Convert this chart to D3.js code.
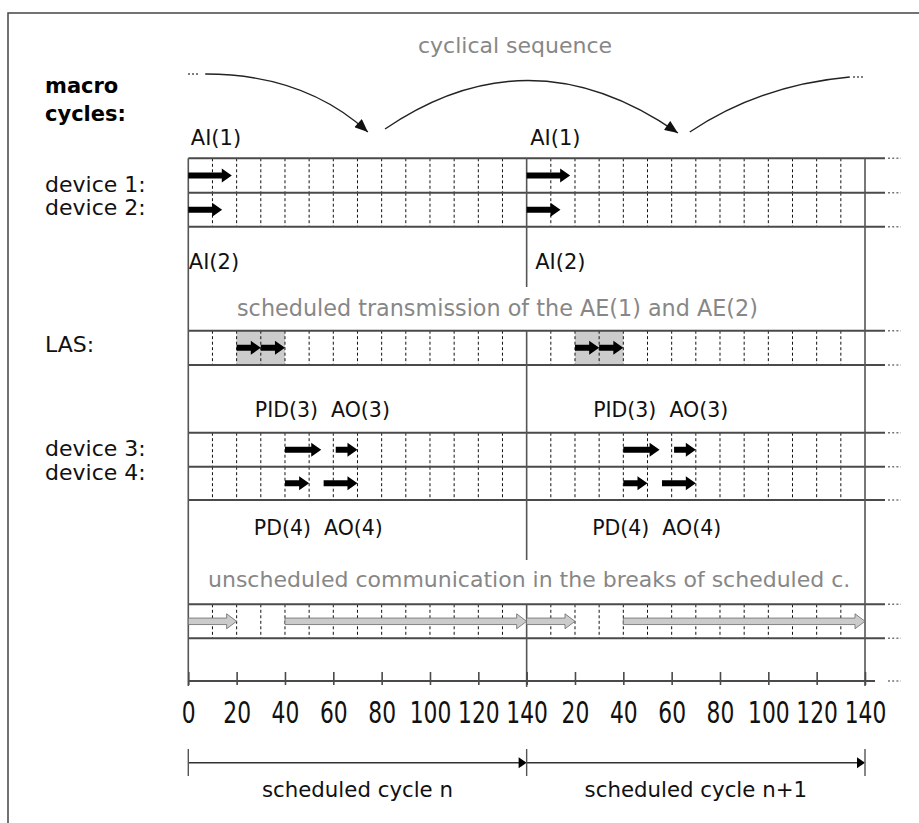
<!DOCTYPE html>
<html>
<head>
<meta charset="utf-8">
<script src="https://cdn.jsdelivr.net/npm/d3@7"></script>
<style>
  html, body { margin: 0; padding: 0; background: #fff; }
  svg text { font-family: "DejaVu Sans", "Liberation Sans", sans-serif; white-space: pre; }
</style>
</head>
<body>
<svg id="chart" width="919" height="823"></svg>
<script>
// ---------- data ----------
const cycleLength = 140;
const cycleNames = ["scheduled cycle n", "scheduled cycle n+1"];
const tickValues = [0, 20, 40, 60, 80, 100, 120, 140];
const slotStep = 10;
const rowLabels = ["device 1:", "device 2:", "LAS:", "device 3:", "device 4:"];
// transmissions per cycle [start, end] in time units (repeated every cycle)
const device1Tx = [[0, 18]];
const device2Tx = [[0, 14]];
const lasWindow = [[20, 40]];
const lasTx = [[20, 30], [30, 40]];
const device3Tx = [[40, 55], [61, 70]];
const device4Tx = [[40, 50], [56, 70]];
const unscheduledTx = [[0, 20], [40, 140]];
const blockLabelsTop = ["AI(1)", "AI(2)"];
const blockLabelsMid = ["PID(3)  AO(3)", "PD(4)  AO(4)"];
const annotations = ["cyclical sequence",
  "scheduled transmission of the AE(1) and AE(2)",
  "unscheduled communication in the breaks of scheduled c."];

// ---------- setup ----------
const svg = d3.select("#chart");
const nCycles = cycleNames.length;
const x = d3.scaleLinear().domain([0, nCycles * cycleLength]).range([188.3, 865]);
const lineCol = "#4a4a4a";
const grayText = "#878787";

// row bands (layout)
const rows = {
  d1: [158.3, 192.7], d2: [192.7, 226.7],
  las: [330.7, 365],
  d3: [432.7, 466.7], d4: [466.7, 500],
  un: [604.3, 638.3]
};
const axisY = 681;

// outer frame
svg.append("path").attr("d", "M8,823 L8,13 L919,13")
  .attr("fill", "none").attr("stroke", "#444").attr("stroke-width", 1.5);

// repeat helper
function repeat(arr) {
  const out = [];
  d3.range(nCycles).forEach(c => arr.forEach(d => out.push([d[0] + c * cycleLength, d[1] + c * cycleLength])));
  return out;
}

// slot dashed lines
const slotVals = [];
d3.range(nCycles).forEach(c => {
  for (let v = slotStep; v < cycleLength; v += slotStep) slotVals.push(v + c * cycleLength);
});

// LAS gray window
const g = svg.append("g");
g.selectAll("rect.win").data(repeat(lasWindow)).join("rect")
  .attr("x", d => x(d[0])).attr("width", d => x(d[1]) - x(d[0]))
  .attr("y", rows.las[0]).attr("height", rows.las[1] - rows.las[0])
  .attr("fill", "#cccccc");

Object.values(rows).forEach(r => {
  g.selectAll(null).data(slotVals).join("line")
    .attr("x1", d => x(d)).attr("x2", d => x(d))
    .attr("y1", r[0]).attr("y2", r[1])
    .attr("stroke", "#111").attr("stroke-width", 1).attr("stroke-dasharray", "3,2.5");
});

// horizontal row lines
const hLines = [...new Set(Object.values(rows).flat())];
g.selectAll(null).data(hLines).join("line")
  .attr("x1", x(0)).attr("x2", x(nCycles * cycleLength) + 20)
  .attr("y1", d => d).attr("y2", d => d)
  .attr("stroke", lineCol).attr("stroke-width", 2);
// continuation dots
g.selectAll(null).data(hLines.concat([axisY])).join("line")
  .attr("x1", 888).attr("x2", 901)
  .attr("y1", d => d).attr("y2", d => d)
  .attr("stroke", "#777").attr("stroke-width", 1.6).attr("stroke-dasharray", "2,2.2");

// vertical solid lines
const vSegs = [
  [0, 158.3, 686], [nCycles * cycleLength, 158.3, 686],
  [cycleLength, 158.3, 287], [cycleLength, 330.7, 560], [cycleLength, 604.3, 687]
];
g.selectAll(null).data(vSegs).join("line")
  .attr("x1", d => x(d[0])).attr("x2", d => x(d[0]))
  .attr("y1", d => d[1]).attr("y2", d => d[2])
  .attr("stroke", "#555").attr("stroke-width", 1.6);

// arrow path builder
function arrowPath(x0, x1, cy, shaft, headH, headL) {
  const xs = x1 - headL;
  return `M${x0},${cy - shaft / 2} L${xs},${cy - shaft / 2} L${xs},${cy - headH / 2} L${x1},${cy} L${xs},${cy + headH / 2} L${xs},${cy + shaft / 2} L${x0},${cy + shaft / 2} Z`;
}
function blackArrows(data, band) {
  const cy = (band[0] + band[1]) / 2;
  g.selectAll(null).data(repeat(data)).join("path")
    .attr("d", d => arrowPath(x(d[0]), x(d[1]), cy, 6, 14, 10))
    .attr("fill", "#000");
}
blackArrows(device1Tx, rows.d1);
blackArrows(device2Tx, rows.d2);
blackArrows(lasTx, rows.las);
blackArrows(device3Tx, rows.d3);
blackArrows(device4Tx, rows.d4);

// unscheduled gray arrows
{
  const cy = (rows.un[0] + rows.un[1]) / 2;
  g.selectAll(null).data(repeat(unscheduledTx)).join("path")
    .attr("d", d => arrowPath(x(d[0]), x(d[1]), cy, 6.5, 15, 10))
    .attr("fill", "#cbcbcb").attr("stroke", "#6a6a6a").attr("stroke-width", 0.8);
}

// axis
const allTicks = [];
d3.range(nCycles).forEach(c => tickValues.forEach(t => { if (!(c > 0 && t === 0)) allTicks.push(t + c * cycleLength); }));
svg.append("line").attr("x1", x(0)).attr("x2", x(nCycles * cycleLength) + 10)
  .attr("y1", axisY).attr("y2", axisY).attr("stroke", lineCol).attr("stroke-width", 2);
const axis = d3.axisBottom(x).tickValues(allTicks)
  .tickFormat(v => v === 0 ? "0" : (v % cycleLength === 0 ? String(cycleLength) : String(v % cycleLength)))
  .tickSizeOuter(0);
const ag = svg.append("g").attr("transform", `translate(0,${axisY})`).call(axis);
ag.select(".domain").remove();
ag.selectAll(".tick line").attr("y1", 4).attr("y2", -9).attr("stroke", lineCol).attr("stroke-width", 1.6);
ag.selectAll(".tick text")
  .attr("y", 42.3).attr("dy", 0)
  .attr("font-size", 29.5).attr("fill", "#111")
  .attr("font-family", "Liberation Sans, Arial, sans-serif")
  .attr("transform", "scale(0.74,1)");

// cycle span arrows
const spanY = 762.7;
const spans = d3.range(nCycles).map(c => [c * cycleLength, (c + 1) * cycleLength]);
svg.selectAll(null).data(spans).join("line")
  .attr("x1", d => x(d[0])).attr("x2", d => x(d[1]) - 6)
  .attr("y1", spanY).attr("y2", spanY).attr("stroke", "#333").attr("stroke-width", 1.4);
svg.selectAll(null).data(spans).join("path")
  .attr("d", d => `M${x(d[1]) - 8},${spanY - 5.5} L${x(d[1])},${spanY} L${x(d[1]) - 8},${spanY + 5.5} Z`)
  .attr("fill", "#000");
svg.selectAll(null).data(d3.range(nCycles + 1)).join("line")
  .attr("x1", c => x(c * cycleLength)).attr("x2", c => x(c * cycleLength))
  .attr("y1", 749).attr("y2", 776).attr("stroke", "#555").attr("stroke-width", 1.4);
svg.selectAll(null).data(cycleNames).join("text")
  .attr("x", (d, i) => (x(i * cycleLength) + x((i + 1) * cycleLength)) / 2)
  .attr("y", 796.5).attr("text-anchor", "middle")
  .attr("font-size", 21.3).attr("fill", "#111").text(d => d);

// left labels
svg.append("text").attr("x", 45).attr("y", 92.5).attr("font-size", 21).attr("font-weight", "bold").attr("fill", "#000").text("macro");
svg.append("text").attr("x", 45).attr("y", 120.5).attr("font-size", 21).attr("font-weight", "bold").attr("fill", "#000").text("cycles:");
const rowLabelY = [192.3, 215, 351.7, 456, 480];
svg.selectAll(null).data(rowLabels).join("text")
  .attr("x", 45).attr("y", (d, i) => rowLabelY[i])
  .attr("font-size", 22).attr("fill", "#111").text(d => d);

// block labels per cycle
d3.range(nCycles).forEach(c => {
  const cx = x(c * cycleLength);
  svg.append("text").attr("x", cx + 2.5 + c * 1).attr("y", 144.5).attr("font-size", 21).attr("fill", "#111").text(blockLabelsTop[0]);
  svg.append("text").attr("x", cx + 0.5 + c * 8).attr("y", 269).attr("font-size", 21).attr("fill", "#111").text(blockLabelsTop[1]);
  svg.append("text").attr("x", cx + 66.5).attr("y", 416.5).attr("font-size", 20.5).attr("fill", "#111").text(blockLabelsMid[0]);
  svg.append("text").attr("x", cx + 65.5).attr("y", 535).attr("font-size", 20.5).attr("fill", "#111").text(blockLabelsMid[1]);
});

// gray annotations
svg.append("text").attr("x", 418).attr("y", 53).attr("font-size", 22).attr("fill", grayText).text(annotations[0]);
svg.append("text").attr("x", 237).attr("y", 316).attr("font-size", 22.3).attr("fill", grayText).text(annotations[1]);
svg.append("text").attr("x", 208).attr("y", 587).attr("font-size", 22).attr("fill", grayText).text(annotations[2]);

// cyclical sequence curves
svg.append("defs").append("marker").attr("id", "ah")
  .attr("viewBox", "0 0 12 10").attr("refX", 12).attr("refY", 5)
  .attr("markerWidth", 14).attr("markerHeight", 11).attr("markerUnits", "userSpaceOnUse")
  .attr("orient", "auto")
  .append("path").attr("d", "M0,0 L12,5 L0,10 Z").attr("fill", "#111");
const curves = [
  { d: `M${x(7)},74 Q${x(48)},74 ${x(74.3)},132`, arrow: true },
  { d: `M${x(81.4)},129 Q${x(141.5)},30 ${x(202.6)},133`, arrow: true },
  { d: `M${x(207.5)},132 Q${x(236.5)},85 ${x(273.7)},77`, arrow: false }
];
svg.selectAll(null).data(curves).join("path")
  .attr("d", d => d.d).attr("fill", "none").attr("stroke", "#222").attr("stroke-width", 1.4)
  .attr("marker-end", d => d.arrow ? "url(#ah)" : null);
// dots at curve ends
[[188, 74], [853, 77]].forEach(p => {
  svg.append("line").attr("x1", p[0]).attr("x2", p[0] + 12).attr("y1", p[1]).attr("y2", p[1])
    .attr("stroke", "#555").attr("stroke-width", 1.4).attr("stroke-dasharray", "2,2");
});
</script>
</body>
</html>
